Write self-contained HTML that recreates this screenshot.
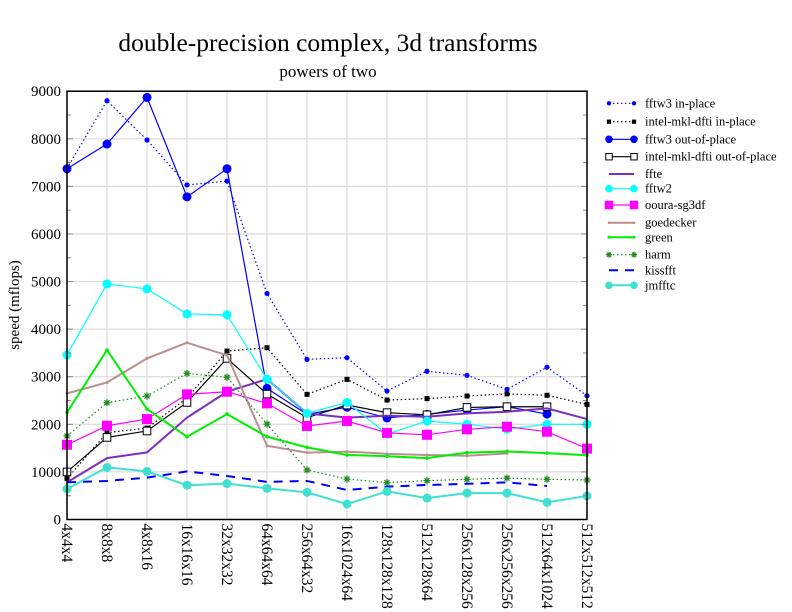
<!DOCTYPE html>
<html><head><meta charset="utf-8"><style>
body{margin:0;background:#fff}
svg{display:block;font-family:"Liberation Serif",serif}
</style></head><body>
<svg id="chart" width="792" height="612" xmlns="http://www.w3.org/2000/svg">
<text x="328" y="51" font-size="25.5" text-anchor="middle">double-precision complex, 3d transforms</text>
<text x="328" y="77" font-size="17" text-anchor="middle">powers of two</text>
<text transform="translate(19,305) rotate(-90)" font-size="15" text-anchor="middle">speed (mflops)</text>
<g id="grid"></g><g id="series"></g><g id="axes"></g><g id="legend"></g>
</svg>
<script>
const categories=["4x4x4","8x8x8","4x8x16","16x16x16","32x32x32","64x64x64","256x64x32","16x1024x64","128x128x128","512x128x64","256x128x256","256x256x256","512x64x1024","512x512x512"];
const yTicks=[0,1000,2000,3000,4000,5000,6000,7000,8000,9000];
const fftw3In=[7380,8800,7975,7030,7110,4750,3365,3400,2700,3115,3030,2735,3200,2600];
const mklIn=[860,1825,1920,2550,3540,3610,2630,2945,2510,2540,2595,2640,2610,2420];
const fftw3Out=[7370,7890,8870,6780,7370,2755,2210,2360,2135,2210,2300,2370,2215,null];
const mklOut=[1000,1725,1860,2460,3385,2635,2140,2405,2245,2200,2355,2370,2370,null];
const ffte=[780,1290,1410,2140,2685,2950,2230,2140,2180,2160,2230,2265,2335,2110];
const fftw2=[3460,4950,4845,4320,4300,2950,2230,2460,1795,2070,2000,1900,2000,2000];
const ooura=[1570,1970,2110,2630,2685,2440,1965,2070,1820,1780,1895,1950,1845,1490];
const goedecker=[2650,2880,3385,3715,3450,1550,1405,1425,1380,1355,1340,1390,null,null];
const green=[2250,3560,2320,1740,2215,1740,1515,1355,1330,1290,1405,1430,1395,1350];
const harm=[1755,2455,2595,3070,2990,2005,1040,850,775,815,845,870,845,830];
const kissfft=[780,810,880,1010,915,790,810,620,690,725,750,780,705,null];
const jmfftc=[640,1095,1010,720,755,655,570,325,590,450,555,555,360,495];

const X0=67,DX=40,YB=519.5,YT=91.2,YMAX=9000,XR=587;
const xs=i=>X0+DX*i;
const ys=v=>YB-(v/YMAX)*(YB-YT);
const NS="http://www.w3.org/2000/svg";
function mk(tag,attrs,parent){const e=document.createElementNS(NS,tag);for(const k in attrs)e.setAttribute(k,attrs[k]);parent.appendChild(e);return e;}
const grid=document.getElementById('grid'),axes=document.getElementById('axes'),ser=document.getElementById('series'),leg=document.getElementById('legend');
yTicks.forEach(t=>{
 const l=mk('line',{x1:X0,x2:XR,y1:ys(t),y2:ys(t),stroke:'#dcdcdc','stroke-width':1.2},grid);
 
 
 const tx=mk('text',{x:X0-6,y:ys(t)+5,'font-size':15,'text-anchor':'end'},axes);
 tx.textContent=t;
 
 
});
for(let v=0;v<=YMAX;v+=500){
 const len=v%1000===0?6:4;
 mk('line',{x1:X0,x2:X0+len,y1:ys(v),y2:ys(v),stroke:'#888'},axes);
 mk('line',{x1:XR,x2:XR-len,y1:ys(v),y2:ys(v),stroke:'#888'},axes);
}
categories.forEach((c,i)=>{
 const l=mk('line',{x1:xs(i),x2:xs(i),y1:YT,y2:YB,stroke:'#dcdcdc','stroke-width':1.2},grid);
 
 
 const tx=mk('text',{transform:`translate(${xs(i)-5},${YB+4}) rotate(90)`,'font-size':15.5},axes);
 tx.textContent=c;
 
 
});
const frame=mk('rect',{x:X0,y:YT,width:XR-X0,height:YB-YT,fill:'none',stroke:'#000','stroke-width':1.5},axes);



function marker(g,type,x,y,color,size){
 if(type==='dot'||type==='circle')mk('circle',{cx:x,cy:y,r:size,fill:color},g);
 else if(type==='sq')mk('rect',{x:x-size,y:y-size,width:2*size,height:2*size,fill:color},g);
 else if(type==='osq')mk('rect',{x:x-size,y:y-size,width:2*size,height:2*size,fill:'#fff',stroke:color,'stroke-width':1},g);
 else if(type==='star'){for(let a=0;a<4;a++){const an=a*Math.PI/4;mk('line',{x1:x-size*Math.cos(an),y1:y-size*Math.sin(an),x2:x+size*Math.cos(an),y2:y+size*Math.sin(an),stroke:color,'stroke-width':1.3},g);}}
}
const seriesDefs=[
 {name:'fftw3 in-place',data:fftw3In,color:'#0000ff',w:1.2,dash:'1.5,2.5',m:'dot',ms:2.6},
 {name:'intel-mkl-dfti in-place',data:mklIn,color:'#000',w:1.2,dash:'1.5,2.5',m:'sq',ms:2.5},
 {name:'fftw3 out-of-place',data:fftw3Out,color:'#0000ff',w:1.2,dash:'',m:'circle',ms:4.5},
 {name:'intel-mkl-dfti out-of-place',data:mklOut,color:'#000',w:1.2,dash:'',m:'osq',ms:3.8},
 {name:'ffte',data:ffte,color:'#7b2fbe',w:2,dash:'',m:null,ms:0},
 {name:'fftw2',data:fftw2,color:'#00ffff',w:1.2,dash:'',m:'circle',ms:4.5},
 {name:'oouras-sg3df',label:'ooura-sg3df',data:ooura,color:'#ff00ff',w:1.2,dash:'',m:'sq',ms:5},
 {name:'goedecker',data:goedecker,color:'#bc8f8f',w:2,dash:'',m:'dot',ms:1.5},
 {name:'green',data:green,color:'#00ee00',w:2,dash:'',m:'dot',ms:1.8},
 {name:'harm',data:harm,color:'#228b22',w:1.2,dash:'1.5,2.5',m:'star',ms:3.5},
 {name:'kissfft',data:kissfft,color:'#0000ff',w:2,dash:'9,7',m:null,ms:0},
 {name:'jmfftc',data:jmfftc,color:'#40e0d0',w:2,dash:'',m:'circle',ms:4.5}
];
seriesDefs.forEach((s,k)=>{
 const g=mk('g',{},ser);
 
 
 let d='';let pen=false;
 s.data.forEach((v,i)=>{if(v==null){pen=false;return;}d+=(pen?'L':'M')+xs(i)+','+ys(v);pen=true;});
 mk('path',{d:d,fill:'none',stroke:s.color,'stroke-width':s.w,'stroke-dasharray':s.dash},g);
 if(s.m)s.data.forEach((v,i)=>{if(v!=null)marker(g,s.m,xs(i),ys(v),s.color,s.ms);});
 const ly=[103.3,121.7,139.3,156.7,174,188.7,205,222.7,237.3,254.7,270.3,285.3][k];
 const lg=mk('g',{},leg);
 
 
 mk('line',{x1:609,x2:634,y1:ly,y2:ly,stroke:s.color,'stroke-width':s.w,'stroke-dasharray':s.dash},lg);
 if(s.m){marker(lg,s.m,609,ly,s.color,s.ms*0.85);marker(lg,s.m,634,ly,s.color,s.ms*0.85);}
 const t=mk('text',{x:645,y:ly+4,'font-size':12.5},lg);
 t.textContent=s.label||s.name;
});
</script>
</body></html>
